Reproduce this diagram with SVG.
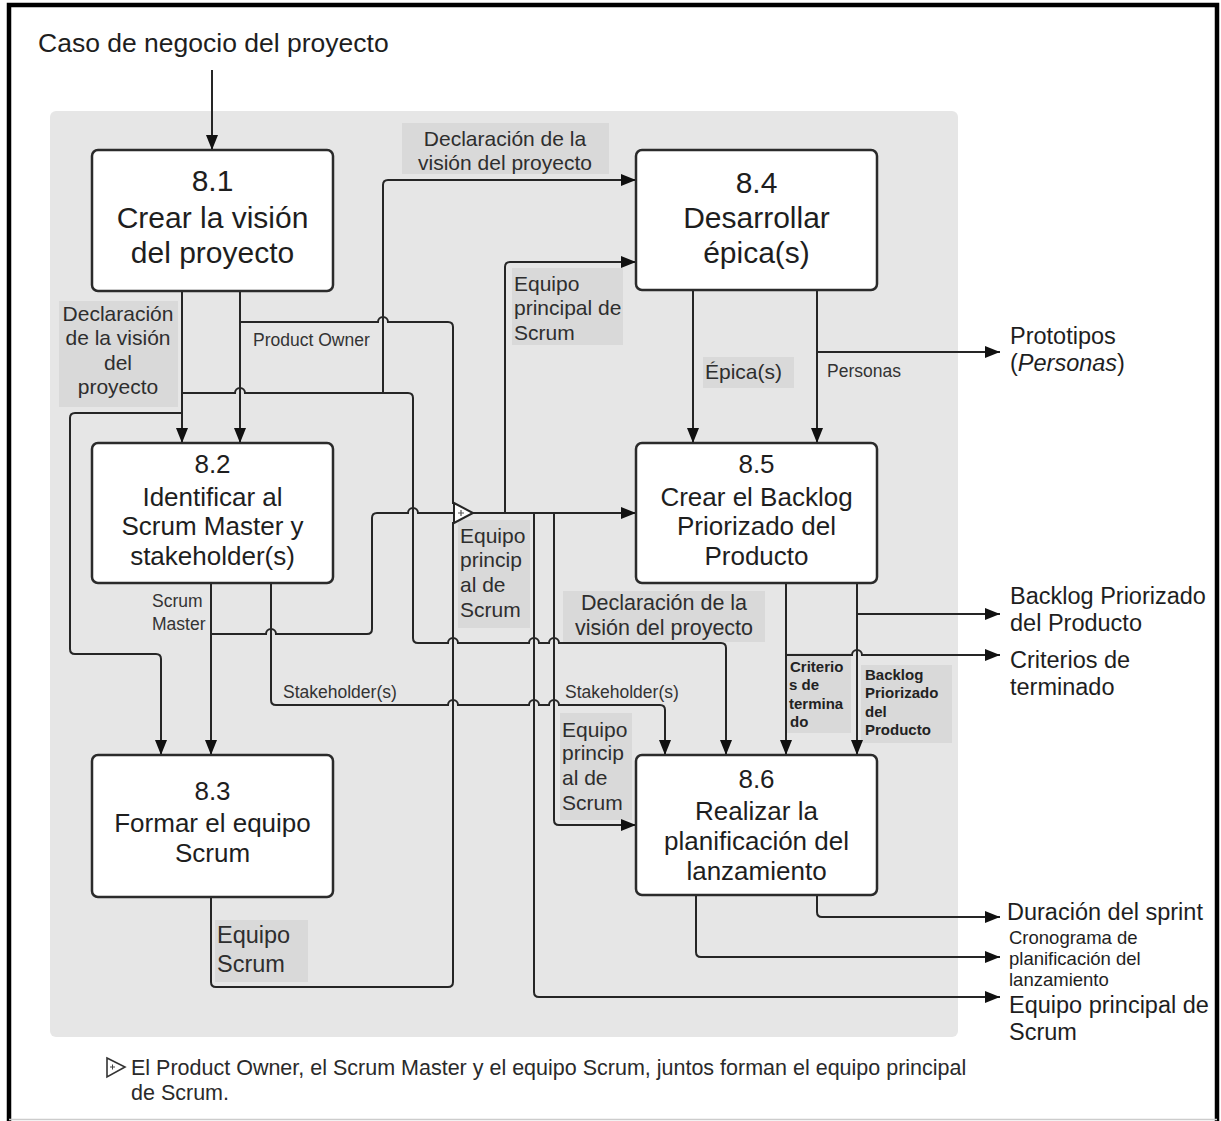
<svg xmlns="http://www.w3.org/2000/svg" width="1221" height="1121" viewBox="0 0 1221 1121">
<style>
text{font-family:"Liberation Sans",Arial,sans-serif;fill:#1e1e1e}
.node rect{fill:#fff;stroke:#2b2b2b;stroke-width:2.5}
.big{font-size:30px}
.mid{font-size:26px}
.c{text-anchor:middle}
.lbl{fill:#d9d9d9}
.lt{font-size:21px;fill:#2e2e2e}
.sm{font-size:17.5px;fill:#333}
.bd{font-size:15px;font-weight:bold;fill:#222}
.out{font-size:23.5px}
.outs{font-size:18.5px}
#connectors path{fill:none;stroke:#262626;stroke-width:2}
.arr{marker-end:url(#ah)}
</style>
<defs>
<marker id="ah" markerUnits="userSpaceOnUse" markerWidth="16" markerHeight="12" refX="15" refY="6" orient="auto">
<path d="M0,0 L15,6 L0,12 z" fill="#111"/>
</marker>
</defs>
<rect x="0" y="0" width="1221" height="1121" fill="#fff"/>
<path d="M9,1125 V5 H1217 V1125" fill="none" stroke="#000" stroke-width="4.5"/>
<line x1="9" y1="1119.5" x2="1217" y2="1119.5" stroke="#ccc" stroke-width="1.5"/>
<rect x="50" y="111" width="908" height="926" rx="6" fill="#e6e6e6"/>

<text x="38" y="52" style="font-size:26.5px">Caso de negocio del proyecto</text>

<g id="label-boxes">
<rect class="lbl" x="402" y="123" width="207" height="51"/>
<rect class="lbl" x="59" y="301" width="119" height="106"/>
<rect class="lbl" x="512" y="268" width="111" height="77"/>
<rect class="lbl" x="703" y="357" width="91" height="31"/>
<rect class="lbl" x="458" y="520" width="72" height="108"/>
<rect class="lbl" x="563" y="591" width="202" height="51"/>
<rect class="lbl" x="560" y="713" width="72" height="107"/>
<rect class="lbl" x="786" y="653" width="65" height="80"/>
<rect class="lbl" x="861" y="665" width="91" height="78"/>
<rect class="lbl" x="215" y="920" width="93" height="62"/>
</g>

<g id="connectors">
<path class="arr" d="M212,70 V150"/>
<path class="arr" d="M182,291 V443"/>
<path class="arr" d="M240,291 V443"/>
<path class="arr" d="M383,393 V185 Q383,180 388,180 H636"/>
<path class="arr" d="M182,393 H235 A5,5 0 0 1 245,393 H408 Q413,393 413,398 V638 Q413,643 418,643 H448 A5,5 0 0 1 458,643 H529 A5,5 0 0 1 539,643 H549 A5,5 0 0 1 559,643 H721 Q726,643 726,648 V755"/>
<path class="arr" d="M182,413 H75 Q70,413 70,418 V649 Q70,654 75,654 H156 Q161,654 161,659 V755"/>
<path d="M240,322 H378 A5,5 0 0 1 388,322 H448 Q453,322 453,327 V504"/>
<path class="arr" d="M211,583 V755"/>
<path d="M211,634 H266 A5,5 0 0 1 276,634 H367 Q372,634 372,629 V518 Q372,513 377,513 H408 A5,5 0 0 1 418,513 H455"/>
<path class="arr" d="M271,583 V700 Q271,705 276,705 H448 A5,5 0 0 1 458,705 H529 A5,5 0 0 1 539,705 H549 A5,5 0 0 1 559,705 H660 Q665,705 665,710 V755"/>
<path d="M211,897 V982 Q211,987 216,987 H448 Q453,987 453,982 V522"/>
<path class="arr" d="M472,513 H636"/>
<path class="arr" d="M505,513 V267 Q505,262 510,262 H636"/>
<path class="arr" d="M534,513 V992 Q534,997 539,997 H1000"/>
<path class="arr" d="M554,513 V820 Q554,825 559,825 H636"/>
<path class="arr" d="M693,290 V443"/>
<path class="arr" d="M817,290 V443"/>
<path class="arr" d="M817,352 H1000"/>
<path class="arr" d="M786,583 V755"/>
<path class="arr" d="M786,655 H852 A5,5 0 0 1 862,655 H1000"/>
<path class="arr" d="M857,583 V755"/>
<path class="arr" d="M857,614 H1000"/>
<path class="arr" d="M817,895 V912 Q817,917 822,917 H1000"/>
<path class="arr" d="M696,895 V952 Q696,957 701,957 H1000"/>
</g>

<g id="merge">
<path d="M454,503 L473,513 L454,523 z" fill="#fff" stroke="#262626" stroke-width="2"/>
<path d="M458,513 h6 M461,510 v6" stroke="#555" stroke-width="1.2"/>
</g>

<g id="label-texts">
<text class="lt c" x="505" y="146">Declaración de la</text>
<text class="lt c" x="505" y="170">visión del proyecto</text>
<text class="lt c" x="118" y="321">Declaración</text>
<text class="lt c" x="118" y="345">de la visión</text>
<text class="lt c" x="118" y="370">del</text>
<text class="lt c" x="118" y="394">proyecto</text>
<text class="sm" x="253" y="346">Product Owner</text>
<text class="lt" x="514" y="291">Equipo</text>
<text class="lt" x="514" y="315">principal de</text>
<text class="lt" x="514" y="340">Scrum</text>
<text class="lt" x="705" y="379">Épica(s)</text>
<text class="sm" x="827" y="377">Personas</text>
<text class="lt" x="460" y="543">Equipo</text>
<text class="lt" x="460" y="567">princip</text>
<text class="lt" x="460" y="592">al de</text>
<text class="lt" x="460" y="617">Scrum</text>
<text class="sm" x="152" y="607">Scrum</text>
<text class="sm" x="152" y="630">Master</text>
<text class="lt c" x="664" y="610" style="font-size:21.5px">Declaración de la</text>
<text class="lt c" x="664" y="635" style="font-size:21.5px">visión del proyecto</text>
<text class="sm" x="283" y="698">Stakeholder(s)</text>
<text class="sm" x="565" y="698">Stakeholder(s)</text>
<text class="lt" x="562" y="737">Equipo</text>
<text class="lt" x="562" y="760">princip</text>
<text class="lt" x="562" y="785">al de</text>
<text class="lt" x="562" y="810">Scrum</text>
<text class="bd" x="790" y="672">Criterio</text>
<text class="bd" x="789" y="690">s de</text>
<text class="bd" x="789" y="709">termina</text>
<text class="bd" x="790" y="727">do</text>
<text class="bd" x="865" y="680">Backlog</text>
<text class="bd" x="865" y="698">Priorizado</text>
<text class="bd" x="865" y="717">del</text>
<text class="bd" x="865" y="735">Producto</text>
<text class="lt" x="217" y="943" style="font-size:23.5px">Equipo</text>
<text class="lt" x="217" y="972" style="font-size:23.5px">Scrum</text>
</g>

<g id="node-8-1" class="node">
<rect x="92" y="150" width="241" height="141" rx="6"/>
<text class="big c" x="212.5" y="191">8.1</text>
<text class="big c" x="212.5" y="228">Crear la visión</text>
<text class="big c" x="212.5" y="263">del proyecto</text>
</g>
<g id="node-8-2" class="node">
<rect x="92" y="443" width="241" height="140" rx="6"/>
<text class="mid c" x="212.5" y="473">8.2</text>
<text class="mid c" x="212.5" y="506">Identificar al</text>
<text class="mid c" x="212.5" y="535">Scrum Master y</text>
<text class="mid c" x="212.5" y="565">stakeholder(s)</text>
</g>
<g id="node-8-3" class="node">
<rect x="92" y="755" width="241" height="142" rx="6"/>
<text class="mid c" x="212.5" y="800">8.3</text>
<text class="mid c" x="212.5" y="832">Formar el equipo</text>
<text class="mid c" x="212.5" y="862">Scrum</text>
</g>
<g id="node-8-4" class="node">
<rect x="636" y="150" width="241" height="140" rx="6"/>
<text class="big c" x="756.5" y="193">8.4</text>
<text class="big c" x="756.5" y="228">Desarrollar</text>
<text class="big c" x="756.5" y="263">épica(s)</text>
</g>
<g id="node-8-5" class="node">
<rect x="636" y="443" width="241" height="140" rx="6"/>
<text class="mid c" x="756.5" y="473">8.5</text>
<text class="mid c" x="756.5" y="506">Crear el Backlog</text>
<text class="mid c" x="756.5" y="535">Priorizado del</text>
<text class="mid c" x="756.5" y="565">Producto</text>
</g>
<g id="node-8-6" class="node">
<rect x="636" y="755" width="241" height="140" rx="6"/>
<text class="mid c" x="756.5" y="788">8.6</text>
<text class="mid c" x="756.5" y="820">Realizar la</text>
<text class="mid c" x="756.5" y="850">planificación del</text>
<text class="mid c" x="756.5" y="880">lanzamiento</text>
</g>

<g id="outputs">
<text class="out" x="1010" y="344">Prototipos</text>
<text class="out" x="1010" y="371">(<tspan font-style="italic">Personas</tspan>)</text>
<text class="out" x="1010" y="604">Backlog Priorizado</text>
<text class="out" x="1010" y="631">del Producto</text>
<text class="out" x="1010" y="668">Criterios de</text>
<text class="out" x="1010" y="695">terminado</text>
<text class="out" x="1007" y="920">Duración del sprint</text>
<text class="outs" x="1009" y="944">Cronograma de</text>
<text class="outs" x="1009" y="965">planificación del</text>
<text class="outs" x="1009" y="986">lanzamiento</text>
<text class="out" x="1009" y="1013">Equipo principal de</text>
<text class="out" x="1009" y="1040">Scrum</text>
</g>

<g id="footnote">
<path d="M107,1058 L125,1067 L107,1077 z" fill="#fff" stroke="#333" stroke-width="1.6"/>
<path d="M110,1067 h5 M112.5,1064.5 v5" stroke="#444" stroke-width="1"/>
<text x="131" y="1075" style="font-size:21.5px;fill:#2a2a2a">El Product Owner, el Scrum Master y el equipo Scrum, juntos forman el equipo principal</text>
<text x="131" y="1100" style="font-size:21.5px;fill:#2a2a2a">de Scrum.</text>
</g>
</svg>
